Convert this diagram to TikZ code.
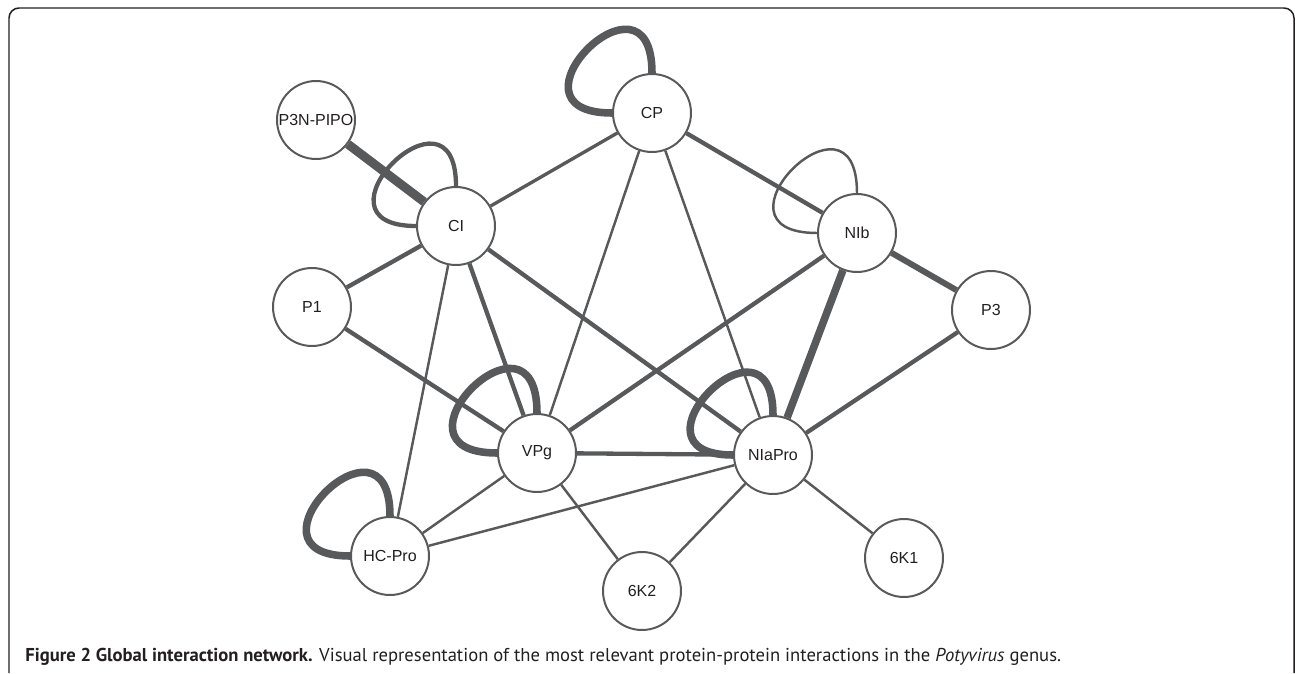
\documentclass[tikz,border=0pt]{standalone}
\usepackage{fontspec}
\usepackage{tikz}

\newfontfamily\nodefont{Liberation Sans}
\newfontfamily\capfont{PT Sans}
\definecolor{netgray}{HTML}{58595B}
\definecolor{inkblack}{HTML}{231F20}

\tikzset{
    protein/.style = {circle, draw = netgray, line width = 1.13pt, fill = white,
        minimum size = 1.56cm, inner sep = 0pt, text = inkblack,
        font = \nodefont\fontsize{9.1}{11}\selectfont},
    weak/.style = {draw = netgray, line width = 1.4pt},
    fair/.style = {draw = netgray, line width = 1.9pt},
    firm/.style = {draw = netgray, line width = 2.45pt},
    strong/.style = {draw = netgray, line width = 3.4pt},
    heavy/.style = {draw = netgray, line width = 4.3pt},
    massive/.style = {draw = netgray, line width = 5.1pt}
}

\begin{document}
\begin{tikzpicture}[x = 0.02cm, y = -0.02cm]
            \useasboundingbox (0,0) rectangle (1295,673);

            % open frame
            \draw [inkblack, line width = 0.85pt, rounded corners = 0.2cm]
            (9,673) -- (9,8) -- (1294,8) -- (1294,673);

            \node [protein] (p3n) at (316,120) {P3N-PIPO};
            \node [protein] (cp) at (652,113) {CP};
            \node [protein] (ci) at (456,226) {CI};
            \node [protein] (nib) at (857,233) {NIb};
            \node [protein] (p1) at (312,307) {P1};
            \node [protein] (p3) at (991,310) {P3};
            \node [protein] (vpg) at (537,453) {VPg};
            \node [protein] (nia) at (773,455) {NIaPro};
            \node [protein] (hcpro) at (390,556) {HC-Pro};
            \node [protein] (k2) at (642,591) {6K2};
            \node [protein] (k1) at (904,558) {6K1};

            % self interactions
            \draw [heavy] (cp.north) .. controls +(0,-118) and +(-118,0) .. (cp.west);
            \draw [firm] (ci.north) .. controls +(0,-115) and +(-115,0) .. (ci.west);
            \draw [weak] (nib.north) .. controls +(0,-118) and +(-118,0) .. (nib.west);
            \draw [heavy] (vpg.north) .. controls +(0,-120) and +(-120,0) .. (vpg.west);
            \draw [heavy] (nia.north) .. controls +(0,-116) and +(-116,0) .. (nia.west);
            \draw [heavy] (hcpro.north) .. controls +(0,-118) and +(-118,0) .. (hcpro.west);

            % interactions
            \draw [massive] (p3n) -- (ci);
            \draw [fair] (ci) -- (cp);
            \draw [firm] (ci) -- (p1);
            \draw [weak] (ci) -- (hcpro);
            \draw [firm] (ci) -- (vpg);
            \draw [firm] (ci) -- (nia);
            \draw [weak] (cp) -- (vpg);
            \draw [weak] (cp) -- (nia);
            \draw [firm] (cp) -- (nib);
            \draw [strong] (nib) -- (p3);
            \draw [firm] (nib) -- (vpg);
            \draw [heavy] (nib) -- (nia);
            \draw [firm] (p3) -- (nia);
            \draw [firm] (p1) -- (vpg);
            \draw [firm] (vpg) -- (nia);
            \draw [weak] (vpg) -- (hcpro);
            \draw [weak] (vpg) -- (k2);
            \draw [weak] (hcpro) -- (nia);
            \draw [weak] (nia) -- (k2);
            \draw [weak] (nia) -- (k1);

            \node [anchor = base west, inner sep = 0pt, text = inkblack,
            font = \capfont\fontsize{10.6}{12.5}\selectfont] (caption) at (25,661)
            {\textbf{Figure 2 Global interaction network.} Visual representation of the most relevant protein-protein interactions in the \textit{Potyvirus} genus.};
        \end{tikzpicture}
\end{document}
